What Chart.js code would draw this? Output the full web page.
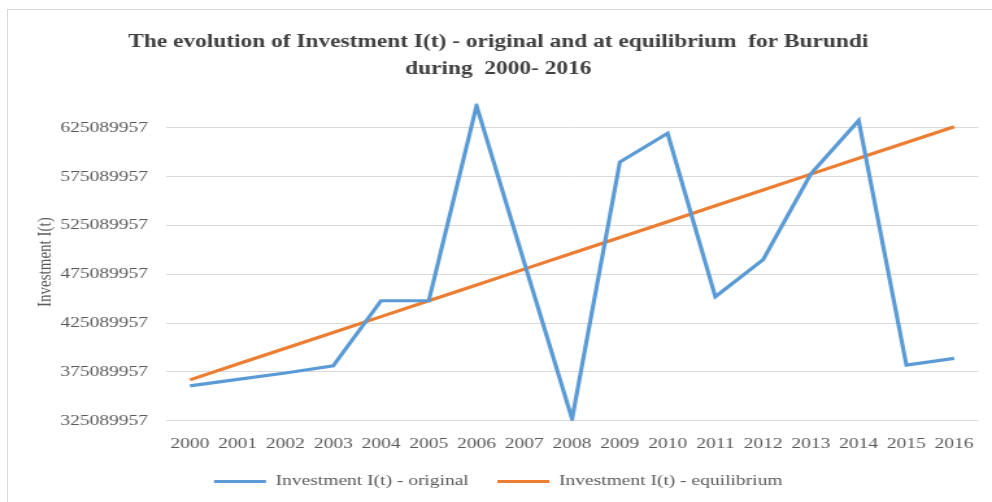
<!DOCTYPE html>
<html lang="en">

<head>
  <meta charset="UTF-8">
  <title>Investment I(t) - Burundi</title>
  <script src="https://cdn.jsdelivr.net/npm/chart.js"></script>
  <style>
    html, body { margin: 0; padding: 0; background: #fff; }
    #cadre { position: absolute; left: 7px; top: 9px; width: 985px; height: 493px;
      border-left: 1px solid #d9d9d9; border-top: 1px solid #d9d9d9; box-sizing: border-box; }
    /* the chart is drawn narrow and stretched sideways, like the source picture */
    #graphique { position: absolute; left: 0; top: 0; width: 992px !important; height: 502px !important; }
  </style>
</head>

<body>
  <div id="cadre"></div>
  <canvas id="graphique" width="764" height="502" style="width: 992px; height: 502px;"></canvas>

  <script>
    const annees = ['2000', '2001', '2002', '2003', '2004', '2005', '2006', '2007', '2008',
      '2009', '2010', '2011', '2012', '2013', '2014', '2015', '2016'];

    const original = [360700000, 367500000, 374000000, 381400000, 448000000, 448000000,
      647800000, 487000000, 326900000, 590100000, 619500000, 452100000, 490100000,
      578000000, 632600000, 382000000, 389000000];

    const equilibre = [366900000, 383100000, 399300000, 415500000, 431700000, 448000000,
      464200000, 480400000, 496600000, 512800000, 529000000, 545300000, 561500000,
      577700000, 593900000, 610100000, 626300000];

    const graduations = [325089957, 375089957, 425089957, 475089957, 525089957,
      575089957, 625089957];

    const gris = '#595959';
    const police = 'Liberation Serif, Times New Roman, serif';

    const ctx = document.getElementById('graphique').getContext('2d');

    const chart = new Chart(ctx, {
      type: 'line',
      data: {
        labels: annees,
        datasets: [
          {
            label: 'Investment I(t) - original',
            data: original,
            borderColor: '#5b9bd5',
            backgroundColor: '#5b9bd5',
            borderWidth: 3.2,
            pointRadius: 0,
            tension: 0,
            fill: false
          },
          {
            label: 'Investment I(t) - equilibrium',
            data: equilibre,
            borderColor: '#ed7d31',
            backgroundColor: '#ed7d31',
            borderWidth: 3.2,
            pointRadius: 0,
            tension: 0,
            fill: false
          }
        ]
      },
      options: {
        responsive: false,
        animation: false,
        layout: { padding: { top: 10, left: 8, right: 4.6, bottom: 3 } },
        scales: {
          x: {
            offset: true,
            grid: { display: false, drawTicks: false },
            border: { display: false },
            ticks: { color: gris, font: { family: police, size: 15 }, padding: 14, maxRotation: 0 },
            afterFit: s => { s.height = 31.3; }
          },
          y: {
            min: 325089957,
            max: 650089957,
            grid: { color: '#d9d9d9', lineWidth: 1, drawTicks: false },
            border: { display: false },
            afterBuildTicks: s => { s.ticks = graduations.map(v => ({ value: v })); },
            afterFit: s => { s.width = 119.9; },
            ticks: {
              color: gris,
              font: { family: police, size: 15 },
              padding: 13.9,
              callback: v => String(v)
            },
            title: {
              display: true,
              text: 'Investment I(t)',
              color: gris,
              font: { family: police, size: 15 },
              padding: { top: 17.7, bottom: 0 }
            }
          }
        },
        plugins: {
          title: {
            display: true,
            text: ['The evolution of Investment I(t) - original and at equilibrium  for Burundi',
              'during  2000- 2016'],
            color: '#404040',
            font: { family: police, size: 18, weight: 'bold', lineHeight: 1.5 },
            padding: { top: 18.5, bottom: 21 }
          },
          legend: {
            position: 'bottom',
            labels: {
              color: gris,
              font: { family: police, size: 15 },
              usePointStyle: true,
              pointStyle: 'line',
              pointStyleWidth: 40,
              padding: 22
            }
          },
          tooltip: { enabled: false }
        }
      }
    });
  </script>
</body>

</html>
